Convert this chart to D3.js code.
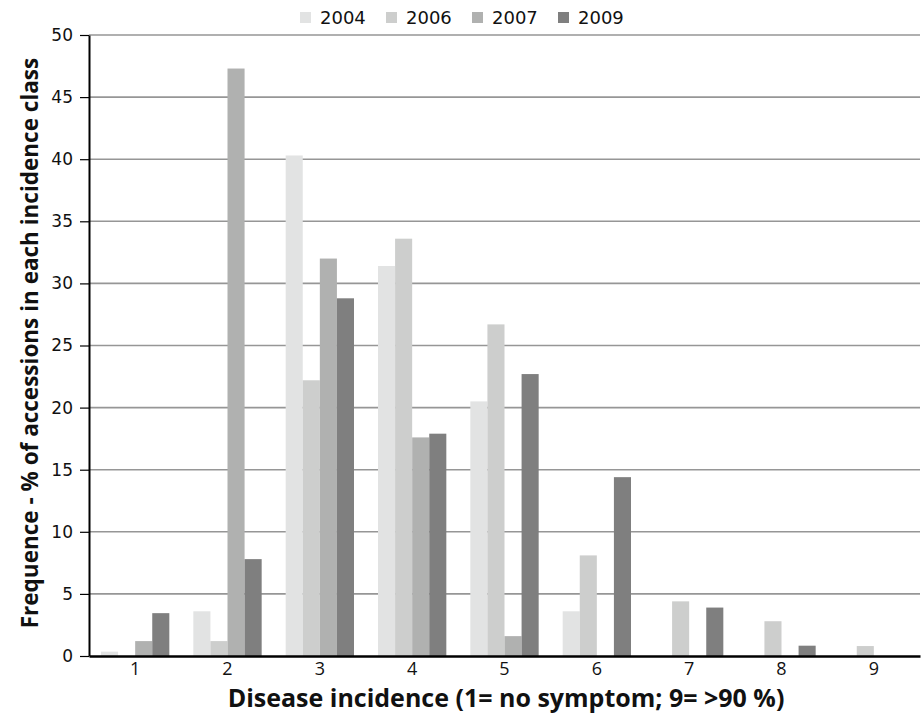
<!DOCTYPE html>
<html>
<head>
<meta charset="utf-8">
<script src="https://cdn.jsdelivr.net/npm/d3@7"></script>
<style>
  body { margin: 0; background: #fff; }
  svg text { fill: #111; }
</style>
</head>
<body>
<script>
// incidence classes and yearly frequencies (% of accessions)
var classes = ["1", "2", "3", "4", "5", "6", "7", "8", "9"];
var years = ["2004", "2006", "2007", "2009"];
var colors = ["#e2e3e3", "#cdcecd", "#b0b1b0", "#7f7f7f"];
var v2004 = [0.35, 3.6, 40.3, 31.4, 20.5, 3.6, 0, 0, 0];
var v2006 = [0, 1.2, 22.2, 33.6, 26.7, 8.1, 4.4, 2.8, 0.8];
var v2007 = [1.2, 47.3, 32.0, 17.6, 1.6, 0, 0, 0, 0];
var v2009 = [3.45, 7.8, 28.8, 17.9, 22.7, 14.4, 3.9, 0.83, 0];
var yTicks = [0, 5, 10, 15, 20, 25, 30, 35, 40, 45, 50];

var series = [v2004, v2006, v2007, v2009];

var width = 923, height = 715;
var mLeft = 89, mRight = 920, mTop = 35, mBottom = 656;

var svg = d3.select("body").append("svg")
  .attr("width", width)
  .attr("height", height);

var x = d3.scaleBand().domain(classes).range([mLeft, mRight]).paddingInner(0.26).paddingOuter(0.13);
var xs = d3.scaleBand().domain(years).range([0, x.bandwidth()]);
var y = d3.scaleLinear().domain([0, 50]).range([mBottom, mTop]);

// gridlines
svg.append("g").selectAll("line")
  .data(yTicks.filter(function (d) { return d > 0; }))
  .enter().append("line")
  .attr("x1", mLeft).attr("x2", mRight)
  .attr("y1", function (d) { return y(d); })
  .attr("y2", function (d) { return y(d); })
  .attr("stroke", "#969696")
  .attr("stroke-width", 1.6);

// bars
var g = svg.append("g").selectAll("g")
  .data(classes)
  .enter().append("g")
  .attr("transform", function (d) { return "translate(" + x(d) + ",0)"; });

g.selectAll("rect")
  .data(function (d, i) {
    return years.map(function (yr, j) { return { year: yr, v: series[j][i], c: colors[j] }; });
  })
  .enter().append("rect")
  .filter(function (d) { return d.v > 0; })
  .attr("x", function (d) { return xs(d.year); })
  .attr("width", xs.bandwidth())
  .attr("y", function (d) { return y(d.v); })
  .attr("height", function (d) { return y(0) - y(d.v); })
  .attr("fill", function (d) { return d.c; });

// y axis
var yAxis = svg.append("g")
  .attr("transform", "translate(" + mLeft + ",0)")
  .call(d3.axisLeft(y).tickValues(yTicks).tickSize(9).tickPadding(7).tickSizeOuter(0));
yAxis.select(".domain").attr("stroke", "#000").attr("stroke-width", 2);
yAxis.selectAll(".tick line").attr("stroke", "#000").attr("stroke-width", 1.2);
yAxis.selectAll("text")
  .style("font-family", "DejaVu Sans")
  .style("font-size", "17px")
  .attr("fill", "#111");

// x axis
var xAxis = svg.append("g")
  .attr("transform", "translate(0," + mBottom + ")")
  .call(d3.axisBottom(x).tickSize(0).tickPadding(6).tickSizeOuter(0));
xAxis.select(".domain").attr("stroke", "#000").attr("stroke-width", 2.5);
xAxis.selectAll("text")
  .style("font-family", "Open Sans")
  .style("font-size", "18px")
  .attr("fill", "#111");

// axis titles
svg.append("text")
  .attr("x", 506)
  .attr("y", 707)
  .attr("text-anchor", "middle")
  .style("font-family", "Open Sans")
  .style("font-weight", "bold")
  .style("font-size", "25px")
  .text("Disease incidence (1= no symptom; 9= >90 %)");

svg.append("text")
  .attr("transform", "translate(38,343) rotate(-90)")
  .attr("text-anchor", "middle")
  .style("font-family", "Open Sans")
  .style("font-weight", "bold")
  .style("font-size", "22.5px")
  .text("Frequence - % of accessions in each incidence class");

// legend
var legend = svg.append("g").selectAll("g")
  .data(years)
  .enter().append("g")
  .attr("transform", function (d, i) { return "translate(" + (300 + i * 86) + ",12)"; });
legend.append("rect")
  .attr("width", 11).attr("height", 11)
  .attr("fill", function (d, i) { return colors[i]; });
legend.append("text")
  .attr("x", 20).attr("y", 12)
  .style("font-family", "DejaVu Sans")
  .style("font-size", "18px")
  .text(function (d) { return d; });
</script>
</body>
</html>
